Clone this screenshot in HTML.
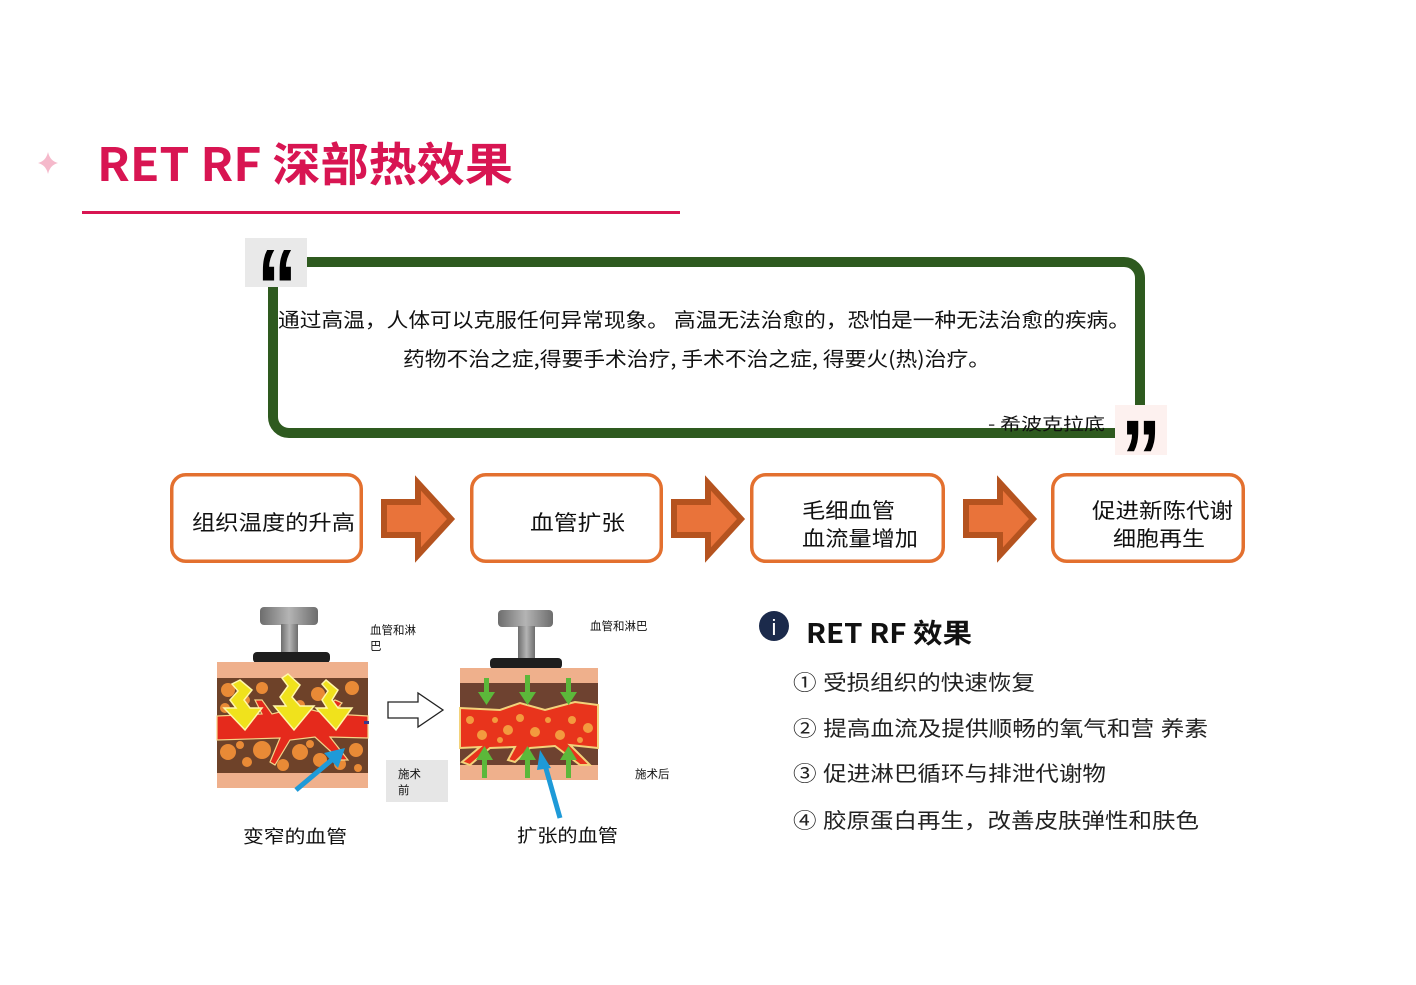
<!DOCTYPE html>
<html><head><meta charset="utf-8">
<style>
html,body{margin:0;padding:0;background:#fff;}
body{width:1416px;height:985px;overflow:hidden;}
svg{display:block;}
text{font-family:"Liberation Sans","Noto Sans CJK SC",sans-serif;}
.cjk{font-family:"Noto Sans CJK SC","Liberation Sans",sans-serif;}
</style></head>
<body>
<svg width="1416" height="985" viewBox="0 0 1416 985" xmlns="http://www.w3.org/2000/svg">
<defs>
<linearGradient id="g1" x1="0" x2="1" y1="0" y2="0">
<stop offset="0" stop-color="#6d6d6d"/><stop offset="0.5" stop-color="#b4b4b4"/><stop offset="1" stop-color="#6d6d6d"/>
</linearGradient>
</defs>

<!-- Title -->
<path d="M48 152 Q50 161 58 163 Q50 165 48 174 Q46 165 38 163 Q46 161 48 152Z" fill="#f5b9cb"/>
<text x="97" y="181" font-size="46" font-weight="bold" fill="#d81552" class="cjk" textLength="416" lengthAdjust="spacingAndGlyphs">RET RF 深部热效果</text>
<rect x="82" y="211" width="598" height="3" fill="#d81552"/>

<!-- Quote box -->
<rect x="273" y="262" width="867" height="171" rx="16" ry="16" fill="none" stroke="#2e5a1f" stroke-width="10"/>
<rect x="245" y="238" width="62" height="49" fill="#e9e9e9"/>
<text x="257" y="324" font-size="108" font-weight="bold" fill="#000" font-family="Liberation Sans, sans-serif" textLength="40" lengthAdjust="spacingAndGlyphs">“</text>
<rect x="1115" y="405" width="52" height="50" fill="#fdf1ef"/>
<text x="1121" y="495" font-size="108" font-weight="bold" fill="#000" font-family="Liberation Sans, sans-serif" textLength="40" lengthAdjust="spacingAndGlyphs">”</text>

<text x="278" y="327" font-size="20" fill="#111" class="cjk" textLength="852" lengthAdjust="spacingAndGlyphs">通过高温，人体可以克服任何异常现象。 高温无法治愈的，恐怕是一种无法治愈的疾病。</text>
<text x="403" y="366" font-size="20" fill="#111" class="cjk" textLength="587" lengthAdjust="spacingAndGlyphs">药物不治之症,得要手术治疗, 手术不治之症, 得要火(热)治疗。</text>
<text x="988" y="430" font-size="17" fill="#111" class="cjk" textLength="117" lengthAdjust="spacingAndGlyphs">- 希波克拉底</text>

<!-- Flow boxes -->
<g fill="none" stroke="#e3702f" stroke-width="3.5">
<rect x="171.75" y="474.75" width="189.5" height="86.5" rx="14"/>
<rect x="471.75" y="474.75" width="189.5" height="86.5" rx="14"/>
<rect x="751.75" y="474.75" width="191.5" height="86.5" rx="14"/>
<rect x="1052.75" y="474.75" width="190.5" height="86.5" rx="14"/>
</g>
<g fill="#e9733a" stroke="#b5531f" stroke-width="6" stroke-linejoin="miter">
<polygon points="384,502 418,502 418,483 451,519 418,555 418,535 384,535"/>
<polygon points="674,502 708,502 708,483 741,519 708,555 708,535 674,535"/>
<polygon points="966,502 1000,502 1000,483 1033,519 1000,555 1000,535 966,535"/>
</g>
<g font-size="21" fill="#111" class="cjk">
<text x="192" y="530" textLength="163" lengthAdjust="spacingAndGlyphs">组织温度的升高</text>
<text x="530" y="530" textLength="95" lengthAdjust="spacingAndGlyphs">血管扩张</text>
<text x="802" y="518" textLength="93" lengthAdjust="spacingAndGlyphs">毛细血管</text>
<text x="802" y="546" textLength="116" lengthAdjust="spacingAndGlyphs">血流量增加</text>
<text x="1092" y="518" textLength="141" lengthAdjust="spacingAndGlyphs">促进新陈代谢</text>
<text x="1113" y="546" textLength="92" lengthAdjust="spacingAndGlyphs">细胞再生</text>
</g>

<!-- Left tissue image -->
<rect x="260" y="607" width="58" height="18" rx="4" fill="url(#g1)"/>
<rect x="281" y="624" width="17" height="32" fill="url(#g1)"/>
<rect x="253" y="652" width="77" height="11" rx="4" fill="#1e1e1e"/>
<rect x="217" y="662" width="151" height="126" fill="#efb08c"/>
<rect x="217" y="678" width="151" height="95" fill="#6e4229"/>
<g fill="#e98a36">
<circle cx="228" cy="690" r="7"/><circle cx="245" cy="700" r="5"/><circle cx="262" cy="688" r="6"/>
<circle cx="318" cy="694" r="7"/><circle cx="336" cy="705" r="5"/><circle cx="352" cy="688" r="7"/>
<circle cx="300" cy="705" r="5"/><circle cx="225" cy="708" r="5"/>
<circle cx="228" cy="752" r="8"/><circle cx="247" cy="762" r="5"/><circle cx="262" cy="750" r="9"/>
<circle cx="283" cy="765" r="6"/><circle cx="300" cy="752" r="8"/><circle cx="320" cy="760" r="7"/>
<circle cx="340" cy="764" r="6"/><circle cx="356" cy="750" r="7"/><circle cx="240" cy="745" r="4"/>
<circle cx="310" cy="744" r="4"/><circle cx="358" cy="768" r="4"/>
</g>
<path d="M217 716 L262 714 L255 700 L262 700 L272 714 L300 707 L320 712 L335 700 L342 703 L332 714 L368 716 L368 738 L330 737 L348 760 L340 760 L315 737 L290 740 L275 765 L270 762 L280 738 L217 740Z" fill="#e52a1c" stroke="#f5d488" stroke-width="1.2"/>
<g fill="#f0e21c" stroke="#fff7a8" stroke-width="1.5">
<path d="M240 680 L252 690 L244 700 L250 708 L262 708 L245 730 L224 708 L236 708 L230 700 L238 691 L232 684Z"/>
<path d="M288 674 L300 685 L292 697 L300 706 L314 706 L294 730 L274 706 L286 706 L280 697 L288 686 L282 678Z"/>
<path d="M326 680 L338 690 L332 700 L338 708 L352 708 L336 730 L316 708 L327 708 L322 700 L328 691 L322 684Z"/>
</g>
<rect x="364" y="721" width="5" height="3" fill="#3a3a8a"/>
<text x="370" y="634" font-size="11.5" fill="#111" class="cjk">血管和淋</text>
<text x="370" y="650" font-size="11.5" fill="#111" class="cjk">巴</text>
<polygon points="388,702 418,702 418,693 443,710 418,727 418,718 388,718" fill="#fff" stroke="#222" stroke-width="1.3"/>
<rect x="386" y="760" width="62" height="42" fill="#e6e6e6"/>
<text x="398" y="778" font-size="11.5" fill="#111" class="cjk">施术</text>
<text x="398" y="794" font-size="11.5" fill="#111" class="cjk">前</text>
<line x1="296" y1="790" x2="334" y2="758" stroke="#1e9ad8" stroke-width="5"/>
<polygon points="345,748 338,768 324,753" fill="#1e9ad8"/>
<text x="243" y="843" font-size="18" fill="#111" class="cjk" textLength="104" lengthAdjust="spacingAndGlyphs">变窄的血管</text>

<!-- Right tissue image -->
<rect x="498" y="610" width="55" height="17" rx="4" fill="url(#g1)"/>
<rect x="518" y="626" width="17" height="33" fill="url(#g1)"/>
<rect x="490" y="658" width="72" height="11" rx="4" fill="#1e1e1e"/>
<rect x="460" y="668" width="138" height="112" fill="#efb08c"/>
<rect x="460" y="683" width="138" height="82" fill="#6e4230"/>
<path d="M460 708 L500 710 L520 703 L545 710 L575 702 L598 705 L598 748 L570 745 L590 765 L580 765 L555 746 L530 748 L515 762 L508 760 L515 747 L490 748 L470 765 L462 762 L480 747 L460 748Z" fill="#e8341c" stroke="#f3d27a" stroke-width="2"/>
<g fill="#f39a3e">
<circle cx="470" cy="720" r="4"/><circle cx="482" cy="735" r="5"/><circle cx="495" cy="720" r="3"/>
<circle cx="508" cy="730" r="5"/><circle cx="520" cy="718" r="4"/><circle cx="535" cy="732" r="5"/>
<circle cx="548" cy="720" r="3"/><circle cx="560" cy="735" r="5"/><circle cx="572" cy="720" r="4"/>
<circle cx="588" cy="728" r="5"/><circle cx="500" cy="740" r="3"/><circle cx="580" cy="740" r="3"/>
</g>
<g fill="#5cb83a">
<rect x="484" y="678" width="5" height="16"/><polygon points="478,692 495,692 486.5,705"/>
<rect x="525" y="675" width="5" height="20"/><polygon points="519,692 536,692 527.5,705"/>
<rect x="566" y="678" width="5" height="16"/><polygon points="560,692 577,692 568.5,705"/>
<rect x="482" y="758" width="5" height="20"/><polygon points="476,760 493,760 484.5,746"/>
<rect x="525" y="758" width="5" height="20"/><polygon points="519,760 536,760 527.5,746"/>
<rect x="566" y="758" width="5" height="20"/><polygon points="560,760 577,760 568.5,746"/>
</g>
<text x="590" y="630" font-size="11.5" fill="#111" class="cjk">血管和淋巴</text>
<text x="635" y="778" font-size="11.5" fill="#111" class="cjk">施术后</text>
<line x1="560" y1="818" x2="545" y2="765" stroke="#1e9ad8" stroke-width="5"/>
<polygon points="540,750 551,768 537,770" fill="#1e9ad8"/>
<text x="517" y="842" font-size="18" fill="#111" class="cjk" textLength="101" lengthAdjust="spacingAndGlyphs">扩张的血管</text>

<!-- Right info section -->
<circle cx="774" cy="626" r="15" fill="#1b2a4b"/>
<text x="774" y="635" font-size="22" fill="#fff" text-anchor="middle" font-family="Liberation Serif, serif">i</text>
<text x="806" y="643" font-size="27" font-weight="bold" fill="#111" class="cjk" textLength="166" lengthAdjust="spacingAndGlyphs">RET RF 效果</text>
<g font-size="21" fill="#222" class="cjk">
<text x="793" y="690" textLength="242" lengthAdjust="spacingAndGlyphs">① 受损组织的快速恢复</text>
<text x="793" y="736" textLength="415" lengthAdjust="spacingAndGlyphs">② 提高血流及提供顺畅的氧气和营 养素</text>
<text x="793" y="781" textLength="313" lengthAdjust="spacingAndGlyphs">③ 促进淋巴循环与排泄代谢物</text>
<text x="793" y="828" textLength="406" lengthAdjust="spacingAndGlyphs">④ 胶原蛋白再生，改善皮肤弹性和肤色</text>
</g>
</svg>
</body></html>
